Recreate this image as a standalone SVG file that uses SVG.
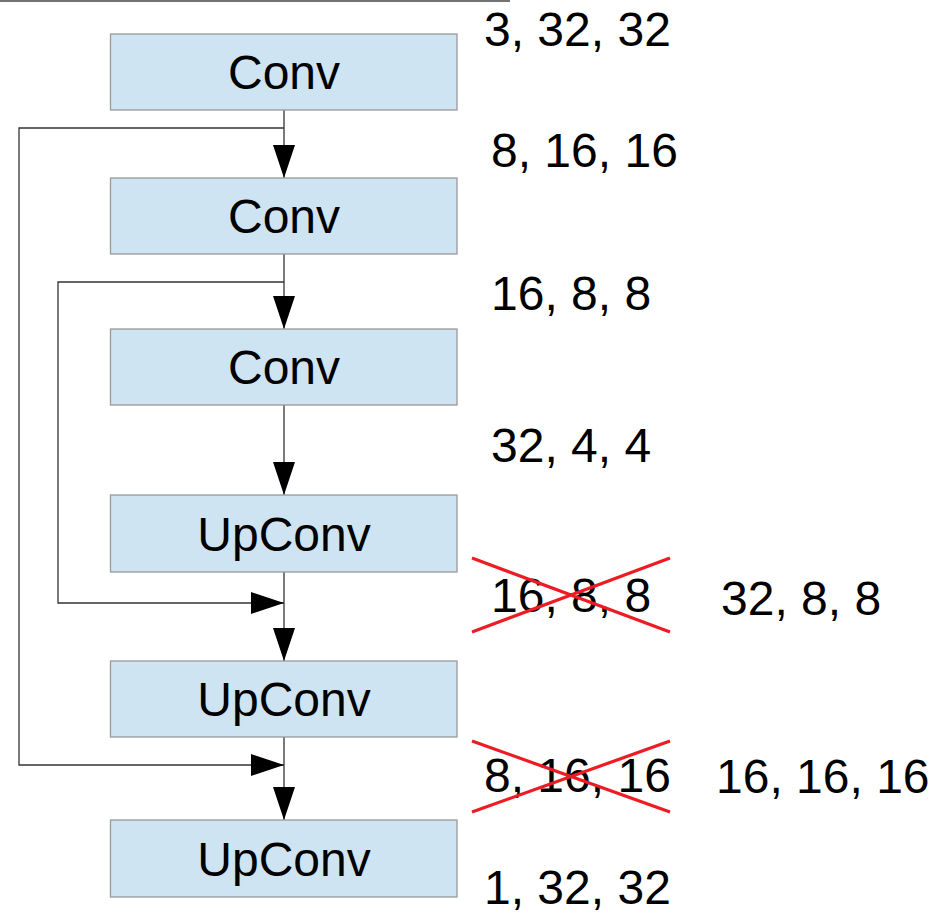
<svg xmlns="http://www.w3.org/2000/svg" width="935" height="913" viewBox="0 0 935 913">
  <style>
    .box { fill: #cfe4f2; stroke: #999999; stroke-width: 1.3; }
    .lbl { font-family: "Liberation Sans", Arial, sans-serif; font-size: 48px; fill: #000; text-anchor: middle; }
    .dim { font-family: "Liberation Sans", Arial, sans-serif; font-size: 48px; fill: #000; }
    .edge { fill: none; stroke: #333333; stroke-width: 1.3; }
    .strike { stroke: #ed1c24; stroke-width: 3.2; fill: none; }
  </style>
  <defs>
    <marker id="arrow" markerUnits="userSpaceOnUse" markerWidth="34" markerHeight="23" refX="33" refY="11" orient="auto" viewBox="0 0 34 23">
      <path d="M0,0 L33,11 L0,22 Z" fill="#000"/>
    </marker>
  </defs>

  <!-- top rule -->
  <line x1="0" y1="1" x2="510" y2="1" stroke="#444" stroke-width="1.3"/>

  <!-- connectors -->
  <g id="connectors">
    <path class="edge" d="M284,110 V178" marker-end="url(#arrow)"/>
    <path class="edge" d="M284,254 V329" marker-end="url(#arrow)"/>
    <path class="edge" d="M284,405 V495" marker-end="url(#arrow)"/>
    <path class="edge" d="M284,572 V661" marker-end="url(#arrow)"/>
    <path class="edge" d="M284,737 V820" marker-end="url(#arrow)"/>
    <path class="edge" d="M284,128 H19 V765 H284" marker-end="url(#arrow)"/>
    <path class="edge" d="M284,282 H58 V603 H284" marker-end="url(#arrow)"/>
  </g>

  <!-- layers -->
  <g id="conv1">
    <rect class="box" x="110.5" y="34" width="346.5" height="76"/>
    <text class="lbl" x="284" y="89">Conv</text>
  </g>
  <g id="conv2">
    <rect class="box" x="110.5" y="178" width="346.5" height="76"/>
    <text class="lbl" x="284" y="233">Conv</text>
  </g>
  <g id="conv3">
    <rect class="box" x="110.5" y="329" width="346.5" height="76"/>
    <text class="lbl" x="284" y="384">Conv</text>
  </g>
  <g id="upconv1">
    <rect class="box" x="110.5" y="495" width="346.5" height="77"/>
    <text class="lbl" x="284" y="551">UpConv</text>
  </g>
  <g id="upconv2">
    <rect class="box" x="110.5" y="661" width="346.5" height="76"/>
    <text class="lbl" x="284" y="716">UpConv</text>
  </g>
  <g id="upconv3">
    <rect class="box" x="110.5" y="820" width="346.5" height="77"/>
    <text class="lbl" x="284" y="876">UpConv</text>
  </g>

  <!-- tensor shapes -->
  <g id="shapes">
    <text class="dim" x="484" y="46">3, 32, 32</text>
    <text class="dim" x="491" y="167">8, 16, 16</text>
    <text class="dim" x="491" y="310">16, 8, 8</text>
    <text class="dim" x="491" y="462">32, 4, 4</text>
    <text class="dim" x="491" y="612">16, 8, 8</text>
    <text class="dim" x="721" y="615">32, 8, 8</text>
    <text class="dim" x="484" y="792">8, 16, 16</text>
    <text class="dim" x="716" y="793">16, 16, 16</text>
    <text class="dim" x="484" y="904">1, 32, 32</text>
  </g>

  <!-- struck-out shapes -->
  <g id="strikes">
    <path class="strike" d="M472,558 L670,632 M472,632 L670,558"/>
    <path class="strike" d="M472,741 L670,812 M472,812 L670,741"/>
  </g>
</svg>
